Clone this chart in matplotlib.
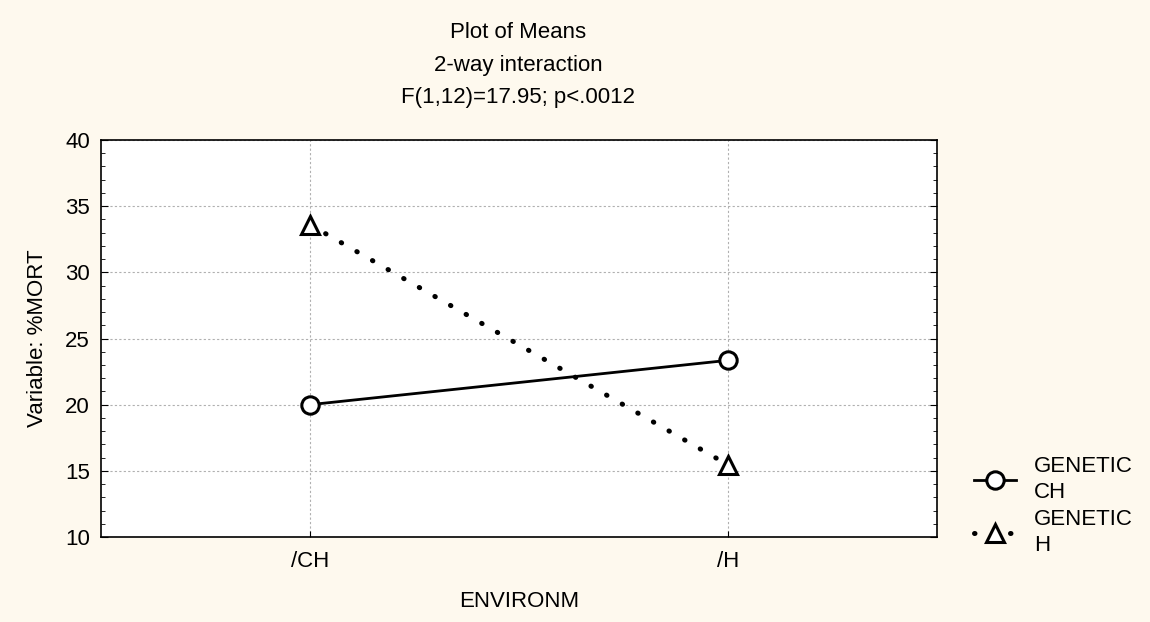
import matplotlib
matplotlib.use("Agg")
import matplotlib.pyplot as plt
from matplotlib.ticker import MultipleLocator

plt.rcParams['font.family'] = ['Liberation Sans', 'DejaVu Sans']

categories = ["/CH", "/H"]
series_names = ["GENETIC\nCH", "GENETIC\nH"]
genetic_ch = [20.0, 23.35]
genetic_h = [33.6, 15.45]
title_lines = ["Plot of Means", "2-way interaction", "F(1,12)=17.95; p<.0012"]

FS = 16
bg = "#FEF9EE"
fig = plt.figure(figsize=(11.5, 6.22), dpi=100, facecolor=bg)
ax = fig.add_axes([101/1150, 1-537/622, 836/1150, 397/622])
ax.set_facecolor("white")

x = list(range(len(categories)))
l1, = ax.plot(x, genetic_ch, color="black", lw=2, marker="o", ms=12.5,
              mfc="white", mec="black", mew=2.2, label=series_names[0], zorder=3)
l2, = ax.plot(x, genetic_h, color="black", lw=3.6, linestyle=(0, (0.1, 3.5)),
              dash_capstyle="round", marker="^", ms=12.5, mfc="white",
              mec="black", mew=2.2, label=series_names[1], zorder=3)

ax.set_xlim(-0.5, 1.5)
ax.set_ylim(10, 40)
ax.set_xticks(x)
ax.set_xticklabels(categories)
ax.yaxis.set_major_locator(MultipleLocator(5))
ax.yaxis.set_minor_locator(MultipleLocator(1))
ax.tick_params(axis="y", which="both", direction="in", right=True, labelsize=FS, pad=8)
ax.tick_params(axis="y", which="major", length=5)
ax.tick_params(axis="y", which="minor", length=3)
ax.tick_params(axis="x", direction="in", length=4, labelsize=FS, pad=10)
ax.grid(True, color="#b0b0b0", linestyle=(0, (2, 2)), lw=0.8)
ax.set_axisbelow(True)
for s in ax.spines.values():
    s.set_linewidth(1.2)

ax.set_xlabel("ENVIRONM", fontsize=FS, labelpad=14)
ax.set_ylabel("Variable: %MORT", fontsize=FS, labelpad=12)

for i, t in enumerate(title_lines):
    fig.text(518/1150, 1 - (32 + 33*i)/622, t, ha="center", va="center", fontsize=FS)

leg = fig.legend(handles=[l1, l2], loc="upper left",
                 bbox_to_anchor=(974/1150, 1-456/622), frameon=False,
                 fontsize=FS, handlelength=1.9, labelspacing=0.3,
                 handletextpad=0.8, borderpad=0, borderaxespad=0)
for t in leg.get_texts():
    t.set_linespacing(1.3)

fig.savefig("out.png", dpi=100, facecolor=bg)
